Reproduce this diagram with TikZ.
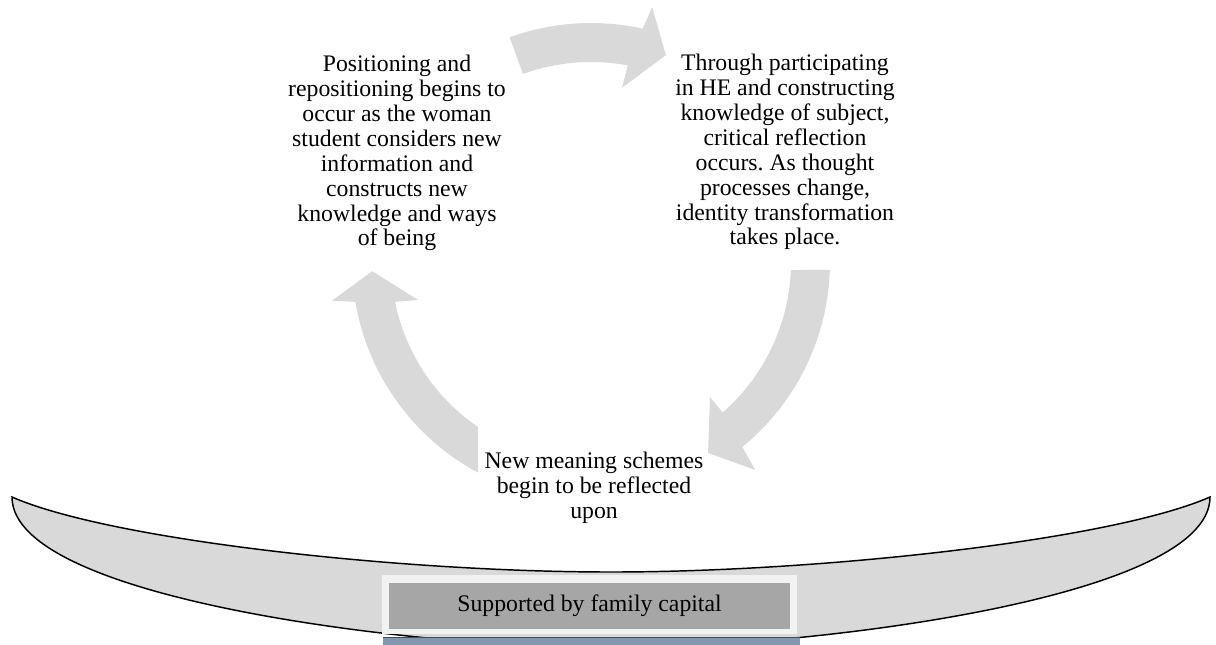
\documentclass[tikz,border=0pt]{standalone}
\usepackage{fontspec}
\setmainfont{Liberation Serif}
\frenchspacing
\definecolor{arrowgray}{RGB}{217,217,217}
\definecolor{bowlgray}{RGB}{217,217,217}
\definecolor{boxlight}{RGB}{242,242,242}
\definecolor{boxgray}{RGB}{166,166,166}
\definecolor{stripblue}{RGB}{132,151,176}
\begin{document}
\begin{tikzpicture}[x=0.75pt,y=-0.75pt,
  txt/.style={align=center,inner sep=0pt,font=\fontsize{17.8}{18.7}\selectfont},
  arrowfill/.style={fill=arrowgray},
  bowl/.style={fill=bowlgray,draw=black,line width=1.1pt}]
\useasboundingbox (0,0) rectangle (1216,644);
\begin{scope}
\clip (0,0) rectangle (1216,644);
\def\cx{591}\def\cy{262}
% bowl
\path[bowl] (12,497) .. controls (110,540) and (400,572) .. (611,572)
  .. controls (822,572) and (1112,540) .. (1210,497)
  .. controls (1210,600) and (802,648) .. (611,648)
  .. controls (420,648) and (12,600) .. cycle;
% blue-grey strip below the support box
\fill[stripblue] (383,637) rectangle (800,645);
\draw[stripblue!50!black,line width=0.9pt] (383,637.6) -- (800,637.6);
% support box
\node[fill=boxlight,minimum width=311.25pt,minimum height=44.25pt,inner sep=0pt] (capbg) at (589.5,604.5) {};
\node[fill=boxgray,minimum width=300.75pt,minimum height=34.5pt,inner sep=0pt,txt] (cap) at (589.5,606) {Supported by family capital};
% top arrow
\path[arrowfill] plot[domain=109.9:77.5,samples=40] ({\cx+239*cos(\x)},{\cy-239*sin(\x)})
  -- ({\cx+262*cos(76.5)},{\cy-262*sin(76.5)})
  -- ({\cx+220*cos(70.1)},{\cy-220*sin(70.1)})
  -- ({\cx+177*cos(79.9)},{\cy-177*sin(79.9)})
  -- plot[domain=79.4:109.9,samples=40] ({\cx+200*cos(\x)},{\cy-200*sin(\x)}) -- cycle;
% right arrow
\path[arrowfill] plot[domain=-1.9:-50.7,samples=40] ({\cx+239*cos(\x)},{\cy-239*sin(\x)})
  -- ({\cx+265*cos(-51.7)},{\cy-265*sin(-51.7)})
  -- ({\cx+224*cos(-58.5)},{\cy-224*sin(-58.5)})
  -- ({\cx+180*cos(-48.6)},{\cy-180*sin(-48.6)})
  -- plot[domain=-48.8:-2.3,samples=40] ({\cx+200*cos(\x)},{\cy-200*sin(\x)}) -- cycle;
% left arrow
\path[arrowfill] plot[domain=241.8:189.6,samples=40] ({\cx+239*cos(\x)},{\cy-239*sin(\x)})
  -- ({\cx+262*cos(188.5)},{\cy-262*sin(188.5)})
  -- ({\cx+219*cos(182.4)},{\cy-219*sin(182.4)})
  -- ({\cx+177*cos(192.4)},{\cy-177*sin(192.4)})
  -- plot[domain=191.5:235.6,samples=40] ({\cx+200*cos(\x)},{\cy-200*sin(\x)}) -- cycle;
% texts
\node[txt] (tl) at (397,153) {Positioning and\\repositioning begins to\\occur as the woman\\student considers new\\information and\\constructs new\\knowledge and ways\\of being};
\node[txt] (tr) at (785,152) {Through participating\\in HE and constructing\\knowledge of subject,\\critical reflection\\occurs. As thought\\processes change,\\identity transformation\\takes place.};
\node[txt] (bt) at (594,488) {New meaning schemes\\begin to be reflected\\upon};
\end{scope}
\end{tikzpicture}
\end{document}
